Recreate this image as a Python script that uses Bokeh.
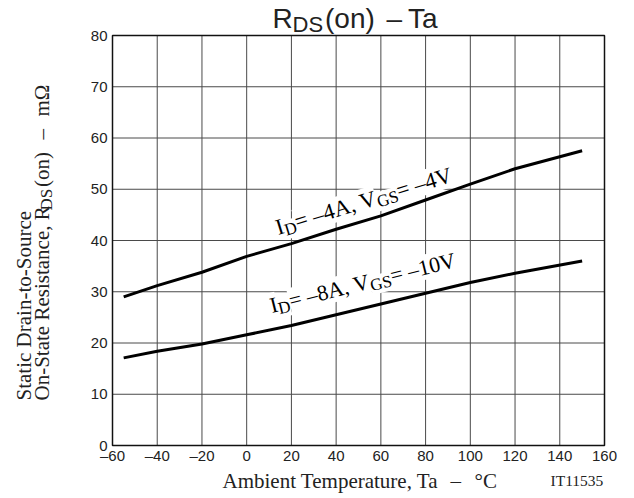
import math
from bokeh.plotting import figure
from bokeh.models import Label, Range1d
from bokeh.core.properties import value
from bokeh.embed import file_html
from bokeh.resources import INLINE

# ---- data ----
temps = [-55, -40, -20, 0, 20, 40, 60, 80, 100, 120, 150]
rds_id4_vgs4 = [29.0, 31.2, 33.8, 36.9, 39.4, 42.2, 44.8, 47.9, 51.0, 54.0, 57.5]
rds_id8_vgs10 = [17.1, 18.4, 19.8, 21.6, 23.4, 25.5, 27.6, 29.7, 31.8, 33.6, 36.0]

x_ticks = [-60, -40, -20, 0, 20, 40, 60, 80, 100, 120, 140, 160]
x_tick_labels = ["\u201360", "\u201340", "\u201320", "0", "20", "40", "60", "80",
                 "100", "120", "140", "160"]
y_ticks = [0, 10, 20, 30, 40, 50, 60, 70, 80]
y_tick_labels = ["0", "10", "20", "30", "40", "50", "60", "70", "80"]

# ---- layout: pixel box of the chart area inside the canvas ----
W, H = 626, 496
FX0, FX1, FY0, FY1 = 112, 604, 35, 445
XMIN, XMAX = x_ticks[0], x_ticks[-1]
YMIN, YMAX = y_ticks[0], y_ticks[-1]


def dx(px):
    return XMIN + (px - FX0) * (XMAX - XMIN) / (FX1 - FX0)


def dy(py):
    return YMIN + (FY1 - py) * (YMAX - YMIN) / (FY1 - FY0)


p = figure(width=W, height=H, output_backend="svg", toolbar_location=None,
           title=None, x_axis_location=None, y_axis_location=None,
           x_range=Range1d(dx(0), dx(W)), y_range=Range1d(dy(H), dy(0)),
           min_border=0)
p.min_border_left = p.min_border_right = p.min_border_top = p.min_border_bottom = 0
p.background_fill_color = "white"
p.border_fill_color = "white"
p.outline_line_color = None
p.grid.visible = False

GRID = "#4a4a4a"
# grid lines at the tick positions
p.segment(x0=x_ticks[1:-1], y0=[YMIN] * (len(x_ticks) - 2),
          x1=x_ticks[1:-1], y1=[YMAX] * (len(x_ticks) - 2),
          line_color=GRID, line_width=1)
p.segment(x0=[XMIN] * (len(y_ticks) - 2), y0=y_ticks[1:-1],
          x1=[XMAX] * (len(y_ticks) - 2), y1=y_ticks[1:-1],
          line_color=GRID, line_width=1)
# chart box
p.quad(left=[XMIN], right=[XMAX], bottom=[YMIN], top=[YMAX],
       fill_color=None, line_color="#111111", line_width=1.5)

# tick labels
p.text(x=x_ticks, y=[YMIN] * len(x_ticks), text=x_tick_labels,
       text_font=value("Liberation Sans"), text_font_size="15px",
       text_color="#222222", text_align="center", text_baseline="middle",
       y_offset=10)
p.text(x=[XMIN] * len(y_ticks), y=y_ticks, text=y_tick_labels,
       text_font=value("Liberation Sans"), text_font_size="15px",
       text_color="#222222", text_align="right", text_baseline="middle",
       x_offset=-5)

r1 = p.line(temps, rds_id4_vgs4, line_color="black", line_width=3)
r2 = p.line(temps, rds_id8_vgs10, line_color="black", line_width=3)
r1.level = "overlay"
r2.level = "overlay"

SHIFT = 8.0  # measured render offset of Label baselines (text-down direction)


def put(text, px, py, size, font, angle_deg=0.0, color="#222222", bg=None):
    a = math.radians(angle_deg)
    px = px - SHIFT * math.sin(a)
    py = py - SHIFT * math.cos(a)
    lab = Label(x=dx(px), y=dy(py), x_units="data", y_units="data", text=text,
                text_font=font, text_font_size=f"{size}px", text_color=color,
                angle=a, text_align="left",
                text_baseline="alphabetic", background_fill_color=bg)
    p.add_layout(lab)


TIMES = {' ': 250, '(': 333, ')': 333, ',': 250, '-': 333, '\u2013': 500, '=': 564,
         'A': 722, 'D': 722, 'G': 722, 'I': 333, 'S': 556, 'V': 722}
for d in "0123456789":
    TIMES[d] = 500


def twidth(text, size):
    return sum(TIMES.get(c, 500) for c in text) * size / 1000.0


def compose(pieces, px, py, angle_deg, font, color, bg=None):
    a = math.radians(angle_deg)
    adv = 0.0
    for text, size, drop in pieces:
        x = px + adv * math.cos(a) + drop * math.sin(a)
        y = py - adv * math.sin(a) + drop * math.cos(a)
        put(text, x, y, size, font, angle_deg, color, bg)
        adv += twidth(text, size)


SERIF = "Liberation Serif"
SANS = "Liberation Sans"

# title
put("R", 272, 26, 28, SANS)
put("DS", 292, 32, 22, SANS)
put("(on)", 324.5, 26, 28, SANS)
put("\u2013", 386, 26, 28, SANS)
put("Ta", 407.5, 26, 28, SANS)

# curve labels
compose([("I", 22.5, 0), ("D", 17, 5), ("= \u20134A, V", 22.5, 0), ("GS", 17, 5),
         ("= \u20134V", 22.5, 0)], 278, 235, 17, SERIF, "black", "white")
compose([("I", 22, 0), ("D", 17, 5), ("= \u20138A, V", 22, 0), ("GS", 17, 5),
         ("= \u201310V", 22, 0)], 271.5, 313, 14, SERIF, "black", "white")

# x axis label
put("Ambient Temperature, Ta", 222, 488, 21, SERIF)
put("\u2013", 450, 488, 21, SERIF)
put("\u00b0C", 474, 488, 21, SERIF)
put("IT11535", 550, 488, 15.5, SERIF)

# y axis label (two lines, rotated)
put("Static Drain-to-Source", 31.5, 400, 21, SERIF, 90)
put("On-State Resistance, R", 49.5, 400, 21, SERIF, 90)
put("DS", 53.5, 210, 17, SERIF, 90)
put("(on)", 49.5, 186.5, 21, SERIF, 90)
put("\u2013", 49.5, 139, 21, SERIF, 90)
put("m\u03a9", 49.5, 116, 21, SERIF, 90)

open("out.html", "w").write(file_html(p, INLINE))
